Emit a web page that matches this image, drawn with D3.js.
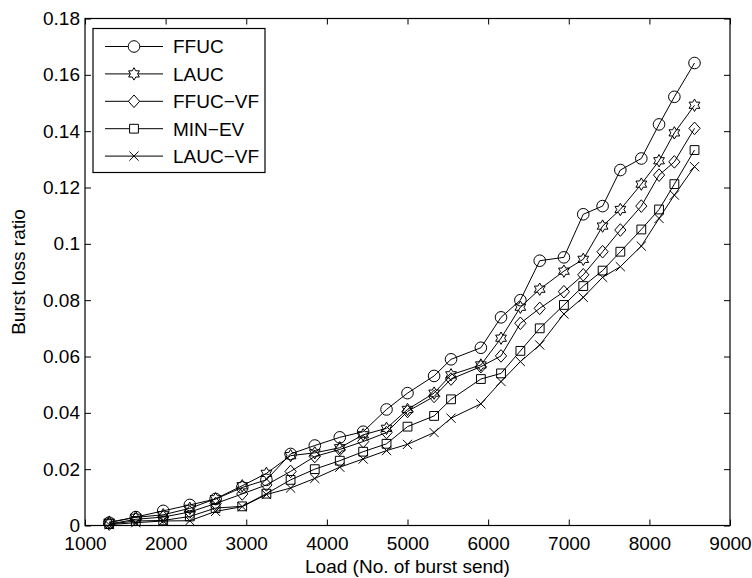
<!DOCTYPE html>
<html>
<head>
<meta charset="utf-8">
<script src="https://cdn.jsdelivr.net/npm/d3@7"></script>
<style>
  html, body { margin: 0; padding: 0; background: #fff; }
  svg { display: block; }
  text { font-family: "Liberation Sans", Arial, Helvetica, sans-serif; fill: #000; }
</style>
</head>
<body>
<svg id="chart" width="752" height="578"></svg>
<script>
// Offered load (number of bursts sent) at each simulation point
const loads = [1300, 1630, 1970, 2300, 2620, 2950, 3250, 3550, 3850, 4160, 4450, 4740, 5000, 5330, 5540, 5910, 6160, 6400, 6640, 6940, 7180, 7420, 7640, 7900, 8120, 8310, 8560];

// Burst loss ratio per scheduling algorithm
const ffuc   = [0.0010, 0.0030, 0.0052, 0.0073, 0.0094, 0.0135, 0.0162, 0.0254, 0.0284, 0.0313, 0.0333, 0.0412, 0.0470, 0.0531, 0.0590, 0.0631, 0.0739, 0.0800, 0.0940, 0.0952, 0.1105, 0.1134, 0.1262, 0.1303, 0.1424, 0.1522, 0.1642];
const lauc   = [0.0012, 0.0029, 0.0038, 0.0061, 0.0095, 0.0141, 0.0185, 0.0248, 0.0258, 0.0276, 0.0322, 0.0345, 0.0412, 0.0470, 0.0535, 0.0570, 0.0665, 0.0775, 0.0839, 0.0903, 0.0945, 0.1063, 0.1122, 0.1212, 0.1295, 0.1394, 0.1492];
const ffucVf = [0.0005, 0.0022, 0.0030, 0.0048, 0.0078, 0.0112, 0.0144, 0.0192, 0.0245, 0.0270, 0.0298, 0.0330, 0.0405, 0.0458, 0.0520, 0.0564, 0.0602, 0.0718, 0.0771, 0.0830, 0.0890, 0.0972, 0.1049, 0.1134, 0.1244, 0.1291, 0.1410];
const minEv  = [0.0005, 0.0016, 0.0018, 0.0032, 0.0062, 0.0068, 0.0113, 0.0162, 0.0200, 0.0230, 0.0262, 0.0290, 0.0351, 0.0389, 0.0448, 0.0520, 0.0540, 0.0620, 0.0700, 0.0783, 0.0850, 0.0905, 0.0972, 0.1051, 0.1122, 0.1212, 0.1333];
const laucVf = [0.0003, 0.0010, 0.0016, 0.0017, 0.0050, 0.0067, 0.0110, 0.0133, 0.0167, 0.0207, 0.0236, 0.0266, 0.0288, 0.0330, 0.0381, 0.0432, 0.0511, 0.0582, 0.0641, 0.0751, 0.0810, 0.0881, 0.0919, 0.0992, 0.1090, 0.1173, 0.1274];

const seriesNames = ["FFUC", "LAUC", "FFUC\u2212VF", "MIN\u2212EV", "LAUC\u2212VF"];
const seriesValues = [ffuc, lauc, ffucVf, minEv, laucVf];
const markerKinds = ["circle", "hexagram", "diamond", "square", "cross"];

// Axis ticks
const xTicks = [1000, 2000, 3000, 4000, 5000, 6000, 7000, 8000, 9000];
const yTicks = [0, 0.02, 0.04, 0.06, 0.08, 0.1, 0.12, 0.14, 0.16, 0.18];
const xLabel = "Load (No. of burst send)";
const yLabel = "Burst loss ratio";

const W = 752, H = 578;
const plot = { left: 85, right: 730, top: 18.5, bottom: 525.5 };
const FONT = 19;

const svg = d3.select("#chart");

const x = d3.scaleLinear().domain([1000, 9000]).range([plot.left, plot.right]);
const y = d3.scaleLinear().domain([0, 0.18]).range([plot.bottom, plot.top]);

const fmtY = d => (d === 0 ? "0" : String(+d.toFixed(2)));

// Axes with inward ticks on all four sides
const axisStyle = g => {
  g.select(".domain").remove();
  g.selectAll(".tick line").attr("stroke", "#000").attr("stroke-width", 1);
  g.selectAll(".tick text").style("font-size", FONT + "px").attr("fill", "#000");
};

svg.append("g")
  .attr("transform", `translate(0,${plot.bottom})`)
  .call(d3.axisBottom(x).tickValues(xTicks).tickSizeInner(-6).tickSizeOuter(0).tickPadding(11).tickFormat(d3.format("d")))
  .call(axisStyle);

svg.append("g")
  .attr("transform", `translate(0,${plot.top})`)
  .call(d3.axisTop(x).tickValues(xTicks).tickSizeInner(-6).tickSizeOuter(0).tickFormat(""))
  .call(axisStyle);

svg.append("g")
  .attr("transform", `translate(${plot.left},0)`)
  .call(d3.axisLeft(y).tickValues(yTicks).tickSizeInner(-6).tickSizeOuter(0).tickPadding(5).tickFormat(fmtY))
  .call(axisStyle);

svg.append("g")
  .attr("transform", `translate(${plot.right},0)`)
  .call(d3.axisRight(y).tickValues(yTicks).tickSizeInner(-6).tickSizeOuter(0).tickFormat(""))
  .call(axisStyle);

// Plot frame
svg.append("rect")
  .attr("x", plot.left).attr("y", plot.top)
  .attr("width", plot.right - plot.left).attr("height", plot.bottom - plot.top)
  .attr("fill", "none").attr("stroke", "#000").attr("stroke-width", 1.2);

// Axis titles
svg.append("text")
  .attr("x", (plot.left + plot.right) / 2).attr("y", 573)
  .attr("text-anchor", "middle").style("font-size", FONT + "px")
  .text(xLabel);

svg.append("text")
  .attr("transform", `translate(25,${(plot.top + plot.bottom) / 2}) rotate(-90)`)
  .attr("text-anchor", "middle").style("font-size", FONT + "px")
  .text(yLabel);

// Marker glyphs
function markerPath(kind) {
  const p = d3.path();
  if (kind === "circle") {
    p.arc(0, 0, 5.8, 0, 2 * Math.PI);
  } else if (kind === "hexagram") {
    const R = 6.2, r = R / Math.sqrt(3);
    for (let i = 0; i < 12; i++) {
      const a = -Math.PI / 2 + i * Math.PI / 6;
      const rad = i % 2 === 0 ? R : r;
      const px = rad * Math.cos(a), py = rad * Math.sin(a);
      if (i === 0) p.moveTo(px, py); else p.lineTo(px, py);
    }
    p.closePath();
  } else if (kind === "diamond") {
    p.moveTo(0, -6.3); p.lineTo(5.6, 0); p.lineTo(0, 6.3); p.lineTo(-5.6, 0); p.closePath();
  } else if (kind === "square") {
    p.rect(-4.4, -4.4, 8.8, 8.8);
  } else if (kind === "cross") {
    p.moveTo(-4.6, -4.6); p.lineTo(4.6, 4.6);
    p.moveTo(-4.6, 4.6); p.lineTo(4.6, -4.6);
  }
  return p.toString();
}

const line = d3.line().x(d => x(d[0])).y(d => y(d[1]));

const seriesG = svg.append("g");
seriesValues.forEach((vals, i) => {
  const pts = loads.map((l, j) => [l, vals[j]]);
  const g = seriesG.append("g");
  g.append("path")
    .attr("d", line(pts))
    .attr("fill", "none").attr("stroke", "#000").attr("stroke-width", 1);
  g.selectAll("path.mk")
    .data(pts)
    .join("path")
    .attr("class", "mk")
    .attr("transform", d => `translate(${x(d[0])},${y(d[1])})`)
    .attr("d", markerPath(markerKinds[i]))
    .attr("fill", "none").attr("stroke", "#000").attr("stroke-width", 1);
});

// Legend
const legend = { x: 93, y: 28.5, w: 172, h: 144, row0: 46.5, rowStep: 27.4 };
const lg = svg.append("g");
lg.append("rect")
  .attr("x", legend.x).attr("y", legend.y)
  .attr("width", legend.w).attr("height", legend.h)
  .attr("fill", "#fff").attr("stroke", "#000").attr("stroke-width", 1.2);

seriesNames.forEach((name, i) => {
  const cy = legend.row0 + i * legend.rowStep;
  lg.append("line")
    .attr("x1", 105).attr("x2", 163).attr("y1", cy).attr("y2", cy)
    .attr("stroke", "#000").attr("stroke-width", 1);
  lg.append("path")
    .attr("transform", `translate(134,${cy})`)
    .attr("d", markerPath(markerKinds[i]))
    .attr("fill", "#fff").attr("stroke", "#000").attr("stroke-width", 1);
  lg.append("text")
    .attr("x", 173).attr("y", cy)
    .attr("dy", "0.36em")
    .style("font-size", FONT + "px")
    .text(name);
});
</script>
</body>
</html>
